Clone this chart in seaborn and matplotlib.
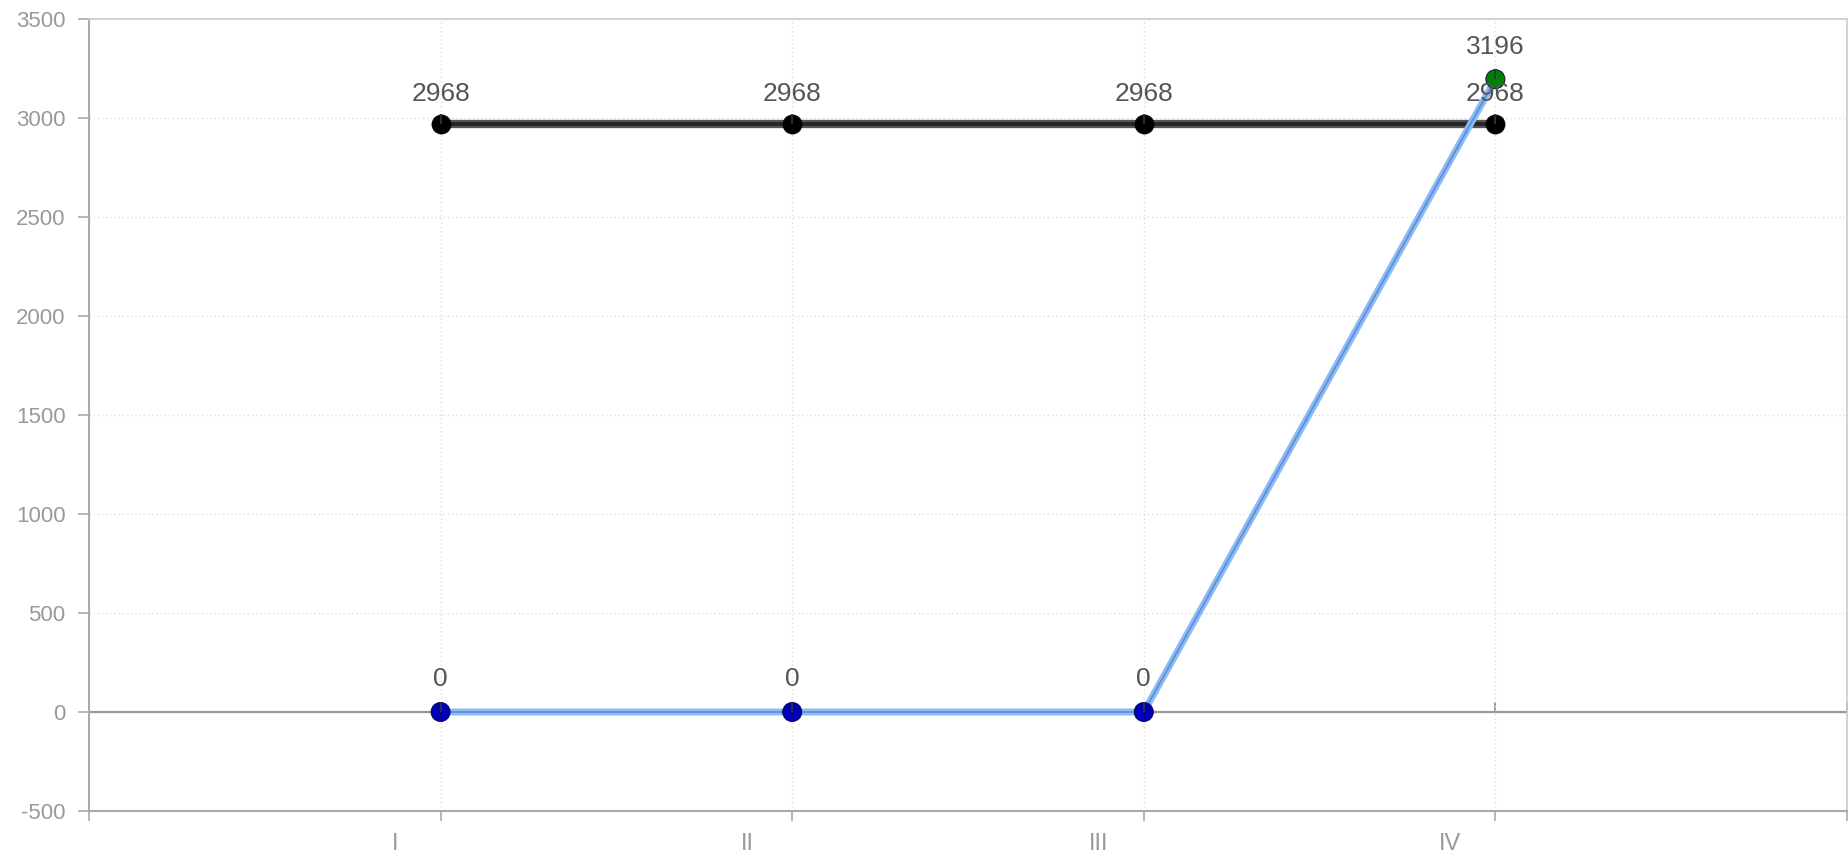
import matplotlib
matplotlib.use("Agg")
import matplotlib.pyplot as plt
import seaborn as sns
import pandas as pd

# ---- data ----
categories = ["I", "II", "III", "IV"]
target_values = [2968, 2968, 2968, 2968]
actual_values = [0, 0, 0, 3196]
actual_point_colors = {"I": "#0000b0", "II": "#0000b0", "III": "#0000b0", "IV": "#008000"}
y_ticks = [-500, 0, 500, 1000, 1500, 2000, 2500, 3000, 3500]

sns.set_theme(style="white")
plt.rcParams["font.family"] = ["Liberation Sans", "DejaVu Sans"]

W, H, DPI = 1849, 861, 100
fig = plt.figure(figsize=(W / DPI, H / DPI), dpi=DPI)
ax = fig.add_axes([89 / W, (H - 811) / H, (1847 - 89) / W, (811 - 19) / H])

pos = list(range(len(categories)))
df = pd.DataFrame({"pos": pos, "cat": categories,
                   "target": target_values, "actual": actual_values})

# zero line
ax.axhline(0, color="#999999", lw=1.6, zorder=2)

# target line (dark)
sns.lineplot(data=df, x="pos", y="target", ax=ax, color="#555555", lw=6, zorder=3)
sns.lineplot(data=df, x="pos", y="target", ax=ax, color="#262626", lw=2.8, zorder=3)
sns.scatterplot(data=df, x="pos", y="target", ax=ax, color="black", s=190,
                edgecolor="black", linewidth=0.5, zorder=5)

# actual line (blue)
sns.lineplot(data=df, x="pos", y="actual", ax=ax, color="#8fbaf2", lw=5, zorder=4)
sns.lineplot(data=df, x="pos", y="actual", ax=ax, color="#5b8fe0", lw=1.3, zorder=4)
sns.scatterplot(data=df, x="pos", y="actual", hue="cat", palette=actual_point_colors,
                ax=ax, s=190, edgecolor="#000060", linewidth=0.6, zorder=6, legend=False)

# small upward stroke on each marker
stroke = [(0, 0), (0, 1)]
for col in ["target", "actual"]:
    ax.plot(df["pos"], df[col], linestyle="none", marker=stroke, markersize=14,
            markeredgecolor="#333333", markeredgewidth=1.3, zorder=7)

# value labels
for p, v in zip(pos, target_values):
    ax.annotate(str(v), (p, v), xytext=(0, 22), textcoords="offset points",
                ha="center", va="center", fontsize=19, color="#555555", zorder=8)
for p, v in zip(pos, actual_values):
    ax.annotate(str(v), (p, v), xytext=(0, 23.5), textcoords="offset points",
                ha="center", va="center", fontsize=19, color="#555555", zorder=8)

# axes limits
ax.set_xlim(-1, 4)
ax.set_ylim(-500, 3500)
ax.set_xlabel("")
ax.set_ylabel("")

# y axis
ax.set_yticks(y_ticks)
ax.set_yticklabels([str(t) for t in y_ticks])
ax.tick_params(axis="y", which="major", length=8, width=1.2, color="#aaaaaa",
               labelsize=16, labelcolor="#999999", pad=9, left=True)

# x axis: ticks at band edges, labels offset left
ax.set_xticks([-1, 0, 1, 2, 3, 4])
ax.set_xticklabels([])
ax.set_xticks([p - 0.128 for p in pos], minor=True)
ax.set_xticklabels(categories, minor=True)
ax.tick_params(axis="x", which="major", length=7.5, width=1.2, color="#aaaaaa",
               direction="out", bottom=True)
ax.tick_params(axis="x", which="minor", length=0, labelsize=17,
               labelcolor="#999999", pad=16, bottom=True)

# grid
ax.grid(True, which="major", axis="both", linestyle=(0, (1, 2)), color="#dddddd", lw=1)
ax.set_axisbelow(True)

for side in ["left", "bottom"]:
    ax.spines[side].set_color("#aaaaaa")
    ax.spines[side].set_linewidth(1.5)
for side in ["top", "right"]:
    ax.spines[side].set_color("#cccccc")
    ax.spines[side].set_linewidth(1.2)

# zero axis with inward ticks
zero_frac = (0 - (-500)) / (3500 - (-500))
sec = ax.secondary_xaxis(zero_frac)
sec.set_xticks(pos + [4])
sec.set_xticklabels([])
sec.tick_params(axis="x", direction="in", length=7.5, width=1.2, color="#888888")
sec.spines["bottom"].set_visible(False)

fig.savefig("out.png", dpi=DPI, facecolor="white")
